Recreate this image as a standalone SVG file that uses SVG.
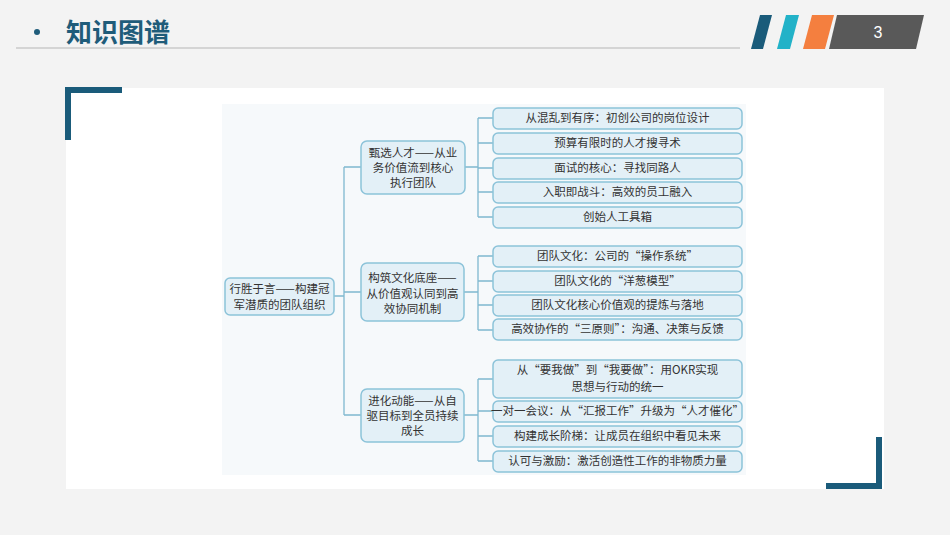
<svg xmlns="http://www.w3.org/2000/svg" width="950" height="535" viewBox="0 0 950 535">
<style>
.n{fill:#e3f0f7;stroke:#8cc3d9;stroke-width:1.5}
.t{font-family:"Noto Sans CJK SC","Liberation Serif",serif;font-size:11.5px;fill:#333;text-anchor:middle}
.c{fill:none;stroke:#7fb8cf;stroke-width:1.3}
</style>
<rect width="950" height="535" fill="#f3f3f3"/>
<circle cx="37" cy="32" r="3" fill="#1f5c7a"/>
<text x="66" y="42" font-family="Noto Sans CJK SC,sans-serif" font-weight="bold" font-size="26" fill="#1f5c7a">知识图谱</text>
<line x1="16" y1="48" x2="740" y2="48" stroke="#b5b5b5" stroke-width="1.2"/>
<polygon points="760,15 772,15 763,49 751,49" fill="#1a5b7a"/>
<polygon points="786,15 799,15 790,49 777,49" fill="#22b2c8"/>
<polygon points="812,15 834,15 825,49 803,49" fill="#f47f3f"/>
<polygon points="837,15 924,15 916,49 829,49" fill="#595959"/>
<text x="878" y="38" font-family="Liberation Sans,sans-serif" font-size="16" fill="#fff" text-anchor="middle">3</text>
<rect x="66" y="88" width="818" height="401" fill="#fff"/>
<path d="M68,140 V90 H122" fill="none" stroke="#1a5b7a" stroke-width="6"/>
<path d="M879,437 V486 H826" fill="none" stroke="#1a5b7a" stroke-width="6"/>
<rect x="222" y="104" width="524" height="371" fill="#f6f9fb"/>
<g id="connectors">
<path class="c" d="M334,296 H344 M344,167 V415 M344,167 H361 M344,292 H361 M344,415 H361"/>
<path class="c" d="M465,167 H478 M478,118 V217 M478,118 H493 M478,143 H493 M478,168 H493 M478,192 H493 M478,217 H493"/>
<path class="c" d="M464,292 H478 M478,256 V330 M478,256 H493 M478,281 H493 M478,305 H493 M478,330 H493"/>
<path class="c" d="M464,415 H478 M478,379 V461 M478,379 H493 M478,411 H493 M478,436 H493 M478,461 H493"/>
</g>
<g id="root"><rect class="n" x="225" y="278" width="109" height="37" rx="5"/><text class="t" x="279.5" y="293">行胜于言——构建冠</text><text class="t" x="279.5" y="309">军潜质的团队组织</text></g>
<g id="m1"><rect class="n" x="361" y="141" width="104" height="53" rx="6"/><text class="t" x="413" y="157">甄选人才——从业</text><text class="t" x="413" y="172">务价值流到核心</text><text class="t" x="413" y="187">执行团队</text></g>
<g id="m2"><rect class="n" x="361" y="263" width="103" height="58" rx="6"/><text class="t" x="412.5" y="282">构筑文化底座——</text><text class="t" x="412.5" y="298">从价值观认同到高</text><text class="t" x="412.5" y="313">效协同机制</text></g>
<g id="m3"><rect class="n" x="361" y="389" width="103" height="53" rx="6"/><text class="t" x="412.5" y="405">进化动能——从自</text><text class="t" x="412.5" y="420">驱目标到全员持续</text><text class="t" x="412.5" y="435">成长</text></g>
<g id="l1"><rect class="n" x="493" y="108" width="249" height="21" rx="5"/><text class="t" x="617.5" y="122">从混乱到有序：初创公司的岗位设计</text></g>
<g id="l2"><rect class="n" x="493" y="133" width="249" height="21" rx="5"/><text class="t" x="617.5" y="147">预算有限时的人才搜寻术</text></g>
<g id="l3"><rect class="n" x="493" y="158" width="249" height="21" rx="5"/><text class="t" x="617.5" y="172">面试的核心：寻找同路人</text></g>
<g id="l4"><rect class="n" x="493" y="182" width="249" height="21" rx="5"/><text class="t" x="617.5" y="196">入职即战斗：高效的员工融入</text></g>
<g id="l5"><rect class="n" x="493" y="207" width="249" height="21" rx="5"/><text class="t" x="617.5" y="221">创始人工具箱</text></g>
<g id="l6"><rect class="n" x="493" y="246" width="249" height="21" rx="5"/><text class="t" x="617.5" y="260">团队文化：公司的“操作系统”</text></g>
<g id="l7"><rect class="n" x="493" y="271" width="249" height="21" rx="5"/><text class="t" x="617.5" y="285">团队文化的“洋葱模型”</text></g>
<g id="l8"><rect class="n" x="493" y="295" width="249" height="21" rx="5"/><text class="t" x="617.5" y="309">团队文化核心价值观的提炼与落地</text></g>
<g id="l9"><rect class="n" x="493" y="319" width="249" height="21" rx="5"/><text class="t" x="617.5" y="333">高效协作的“三原则”：沟通、决策与反馈</text></g>
<g id="l10"><rect class="n" x="493" y="360" width="249" height="38" rx="5"/><text class="t" x="617.5" y="374">从“要我做”到“我要做”：用OKR实现</text><text class="t" x="617.5" y="391">思想与行动的统一</text></g>
<g id="l11"><rect class="n" x="493" y="401" width="249" height="21" rx="5"/><text class="t" x="617.5" y="415">一对一会议：从“汇报工作”升级为“人才催化”</text></g>
<g id="l12"><rect class="n" x="493" y="426" width="249" height="21" rx="5"/><text class="t" x="617.5" y="440">构建成长阶梯：让成员在组织中看见未来</text></g>
<g id="l13"><rect class="n" x="493" y="451" width="249" height="21" rx="5"/><text class="t" x="617.5" y="465">认可与激励：激活创造性工作的非物质力量</text></g>
</svg>
